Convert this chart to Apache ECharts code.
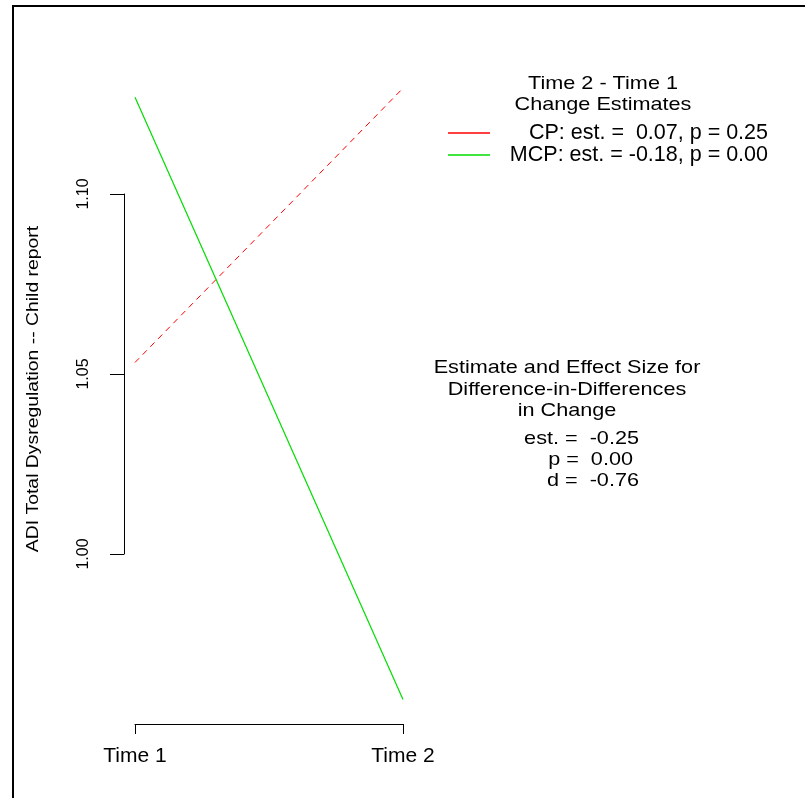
<!DOCTYPE html>
<html>
<head>
<meta charset="utf-8">
<script src="https://cdn.jsdelivr.net/npm/echarts@6/dist/echarts.min.js"></script>
<style>html,body{margin:0;padding:0;background:#fff}#c{width:805px;height:798px}</style>
</head>
<body>
<div id="c"></div>
<script>
const timePoints = [1, 2];
const xTickLabels = ['Time 1', 'Time 2'];
const yTickLabels = ['1.00', '1.05', '1.10'];
const seriesNames = ['CP', 'MCP'];
const cpValues = [1.0532, 1.1294];
const mcpValues = [1.1269, 0.9596];
const legendTitle = ['Time 2 - Time 1', 'Change Estimates'];
const legendLabels = ['CP: est. =  0.07, p = 0.25', 'MCP: est. = -0.18, p = 0.00'];
const yAxisTitle = 'ADI Total Dysregulation -- Child report';
const didTitle = ['Estimate and Effect Size for', 'Difference-in-Differences', 'in Change'];
const didStats = ['est. =  -0.25', 'p =  0.00', 'd =  -0.76'];

const FONT = 'Liberation Sans, Arial, sans-serif';
const chart = echarts.init(document.getElementById('c'), null, {renderer: 'canvas'});

const makeData = vals => timePoints.map((t, i) => [t, vals[i]]);

const graphics = [
  {type: 'rect', shape: {x: 13, y: 6, width: 820, height: 820}, style: {fill: 'none', stroke: '#000', lineWidth: 2}, silent: true},
  {type: 'text', x: 33, y: 389, rotation: Math.PI / 2, scaleX: 1.14,
   style: {text: yAxisTitle, font: '17px ' + FONT, fill: '#000', textAlign: 'center', textVerticalAlign: 'middle'}},
];
legendTitle.forEach((t, i) => graphics.push({type: 'text', x: 603, y: 84 + i * 20.5, scaleX: 1.17,
  style: {text: t, font: '18.5px ' + FONT, fill: '#000', textAlign: 'center', textVerticalAlign: 'middle'}}));
didTitle.forEach((t, i) => graphics.push({type: 'text', x: 567, y: 368 + i * 21.5, scaleX: 1.17,
  style: {text: t, font: '18.5px ' + FONT, fill: '#000', textAlign: 'center', textVerticalAlign: 'middle'}}));
const statRight = [639, 633, 639];
didStats.forEach((t, i) => graphics.push({type: 'text', x: statRight[i], y: 439 + i * 21, scaleX: 1.17,
  style: {text: t, font: '18.5px ' + FONT, fill: '#000', textAlign: 'right', textVerticalAlign: 'middle'}}));

chart.setOption({
  animation: false,
  backgroundColor: '#fff',
  textStyle: {fontFamily: FONT},
  grid: {left: 135, right: 402, top: 194, bottom: 244, containLabel: false},
  xAxis: {
    type: 'value', min: 1, max: 2, interval: 1, position: 'bottom', offset: 170,
    axisLine: {show: true, lineStyle: {color: '#000', width: 1}},
    axisTick: {show: true, length: 10, lineStyle: {color: '#000', width: 1}},
    axisLabel: {show: true, margin: 22, fontSize: 21, color: '#000', fontFamily: FONT,
      formatter: v => xTickLabels[timePoints.indexOf(Math.round(v))] || ''},
    splitLine: {show: false}
  },
  yAxis: {
    type: 'value', min: 1.0, max: 1.1, interval: 0.05, position: 'left', offset: 11,
    axisLine: {show: true, lineStyle: {color: '#000', width: 1}},
    axisTick: {show: true, length: 14, lineStyle: {color: '#000', width: 1}},
    axisLabel: {show: true, rotate: 90, margin: 32, fontSize: 16, color: '#000', fontFamily: FONT,
      formatter: v => yTickLabels.find(l => Math.abs(parseFloat(l) - v) < 1e-6) || ''},
    splitLine: {show: false}
  },
  legend: {
    orient: 'vertical', left: 448, top: 122, padding: 0, itemWidth: 42, itemHeight: 1.6, itemGap: 0,
    icon: 'rect',
    data: seriesNames,
    formatter: name => '{a|' + legendLabels[seriesNames.indexOf(name)] + '}',
    textStyle: {fontSize: 21.5, color: '#000', fontFamily: FONT, lineHeight: 20,
      rich: {a: {width: 273, align: 'right', fontSize: 21.5, fontFamily: FONT, color: '#000', lineHeight: 20}}}
  },
  series: [
    {name: seriesNames[0], type: 'line', data: makeData(cpValues), symbol: 'none', clip: false,
     color: '#ff0000', lineStyle: {color: '#ff0000', width: 1, type: [6, 5]}},
    {name: seriesNames[1], type: 'line', data: makeData(mcpValues), symbol: 'none', clip: false,
     color: '#00dd00', lineStyle: {color: '#00dd00', width: 1.2, type: 'solid'}}
  ],
  graphic: graphics
});
</script>
</body>
</html>
